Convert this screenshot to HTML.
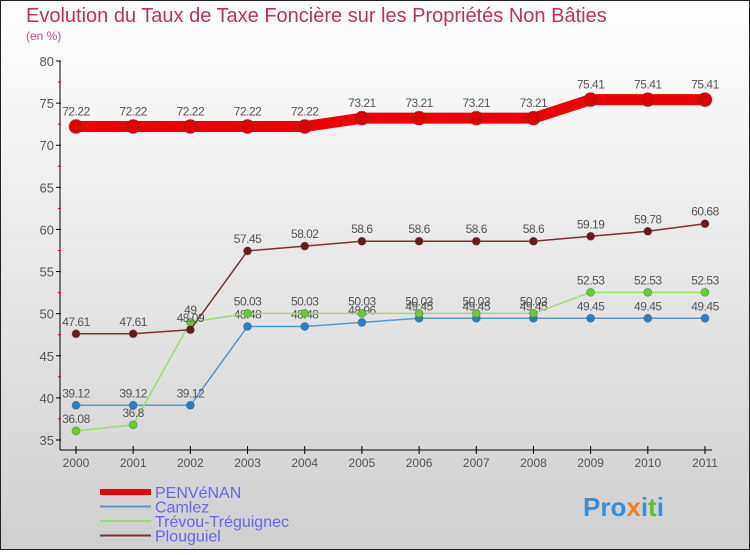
<!DOCTYPE html>
<html><head><meta charset="utf-8"><style>
body{margin:0;width:750px;height:550px;overflow:hidden;font-family:"Liberation Sans",sans-serif}
svg text{font-family:"Liberation Sans",sans-serif}
</style></head><body>
<svg id="chart" width="750" height="550">
<defs><linearGradient id="bg" x1="0" y1="0" x2="0" y2="1"><stop offset="0" stop-color="#ffffff"/><stop offset="1" stop-color="#cfcfcf"/></linearGradient></defs>
<rect x="0.5" y="0.5" width="749" height="549" fill="url(#bg)" stroke="#222"/>
<text x="26" y="22" font-size="20" fill="#c0305a">Evolution du Taux de Taxe Foncière sur les Propriétés Non Bâties</text>
<text x="26" y="40" font-size="12" fill="#c0507a">(en %)</text>
<g id="axes"></g><g id="series"></g><g id="legend"></g>
<text x="583" y="516" font-size="26" font-weight="bold" fill="#3a8fd0">Pro<tspan fill="#f08020">x</tspan>i<tspan fill="#60c030">t</tspan>i</text>
</svg>
<script>
const years=[2000,2001,2002,2003,2004,2005,2006,2007,2008,2009,2010,2011];
const yTicks=[35,40,45,50,55,60,65,70,75,80];
const penvenan=[72.22,72.22,72.22,72.22,72.22,73.21,73.21,73.21,73.21,75.41,75.41,75.41];
const camlez=[39.12,39.12,39.12,48.48,48.48,48.96,49.45,49.45,49.45,49.45,49.45,49.45];
const trevou=[36.08,36.8,49,50.03,50.03,50.03,50.03,50.03,50.03,52.53,52.53,52.53];
const plouguiel=[47.61,47.61,48.09,57.45,58.02,58.6,58.6,58.6,58.6,59.19,59.78,60.68];
const seriesNames=["PENVéNAN","Camlez","Trévou-Tréguignec","Plouguiel"];
const NS="http://www.w3.org/2000/svg";
const xs=i=>76+i*(705-76)/(years.length-1);
const ys=v=>440-(v-35)*(440-61)/45;
function mk(tag,attrs,parent){const e=document.createElementNS(NS,tag);for(const k in attrs)e.setAttribute(k,attrs[k]);parent.appendChild(e);return e;}
const ax=document.getElementById('axes');
let l=mk('line',{x1:60,y1:61,x2:60,y2:450,stroke:'#000'},ax);


l=mk('line',{x1:60,y1:450,x2:712,y2:450,stroke:'#000'},ax);


yTicks.forEach((v,i)=>{
  mk('line',{x1:56,y1:ys(v),x2:61,y2:ys(v),stroke:'#000'},ax);
  if(i<yTicks.length-1)mk('line',{x1:58,y1:ys(v+2.5),x2:61,y2:ys(v+2.5),stroke:'#e00'},ax);
  const t=mk('text',{x:54,y:ys(v)+5,'font-size':13,fill:'#555','text-anchor':'end'},ax);
  t.textContent=v;
  
  
});
years.forEach((y,i)=>{
  mk('line',{x1:xs(i),y1:446,x2:xs(i),y2:454,stroke:'#000'},ax);
  const t=mk('text',{x:xs(i),y:467,'font-size':12,fill:'#555','text-anchor':'middle'},ax);
  t.textContent=y;
  
  
});
const sg=document.getElementById('series');
const defs=[[penvenan,'#ee0000',11,7,'#dd0000'],[camlez,'#5599cc',1.5,4,'#2a7fc0'],[trevou,'#99dd77',1.5,4,'#66cc33'],[plouguiel,'#7a3333',1.5,4,'#661a1a']];
const order=[1,2,3,0];
order.forEach(si=>{
  const [d,c,w,r,pc]=defs[si];
  const g=mk('g',{},sg);
  
  
  const p=mk('polyline',{points:d.map((v,i)=>xs(i)+','+ys(v)).join(' '),fill:'none',stroke:c,'stroke-width':w,'stroke-linejoin':'round'},g);
  
  
  d.forEach((v,i)=>{
    const ci=mk('circle',{cx:xs(i),cy:ys(v),r:r,fill:pc,stroke:'#555','stroke-opacity':0.4},g);
    
    
    const t=mk('text',{x:xs(i),y:ys(v)-(si==0?11:8),'font-size':12,fill:'#555','text-anchor':'middle','letter-spacing':'-0.5'},g);
    t.textContent=v;
    
    
  });
});
const lg=document.getElementById('legend');
seriesNames.forEach((n,i)=>{
  const [d,c,w]=defs[i];
  const yy=492+i*14.5;
  const g=mk('g',{},lg);
  
  
  mk('line',{x1:100,y1:yy,x2:151,y2:yy,stroke:c,'stroke-width':i==0?6:2},g);
  const t=mk('text',{x:155,y:yy+6,'font-size':16,fill:'#6666ee'},g);
  t.textContent=n;
});
</script>
</body></html>
